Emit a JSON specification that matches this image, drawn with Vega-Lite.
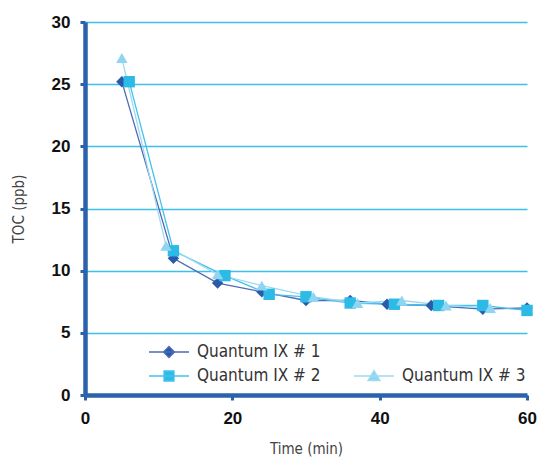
{
  "$schema": "https://vega.github.io/schema/vega-lite/v6.json",
  "width": 442,
  "height": 373,
  "autosize": {"type": "none"},
  "padding": {"left": 85, "top": 22, "right": 15, "bottom": 62},
  "background": "white",
  "config": {
    "view": {"stroke": null},
    "font": "Liberation Sans",
    "axis": {
      "domainColor": "#2a62ab",
      "domainWidth": 4.5,
      "tickColor": "#2a62ab",
      "tickWidth": 3,
      "tickSize": 5,
      "labelFont": "Liberation Sans",
      "labelFontWeight": "bold",
      "labelFontSize": 17,
      "labelColor": "#111111",
      "labelFlush": false,
      "titleFont": "Liberation Sans Narrow, DejaVu Sans Condensed, Roboto Condensed, sans-serif",
      "titleFontWeight": "normal",
      "titleFontSize": 15,
      "titleColor": "#444444"
    },
    "legend": {
      "padding": 0,
      "labelFont": "Liberation Sans Narrow, DejaVu Sans Condensed, Roboto Condensed, sans-serif",
      "labelFontSize": 17,
      "labelColor": "#333333"
    }
  },
  "data": {
    "values": [
      {"series": "Quantum IX # 1", "t": 5, "toc": 25.2},
      {"series": "Quantum IX # 1", "t": 12, "toc": 11.0},
      {"series": "Quantum IX # 1", "t": 18, "toc": 9.0},
      {"series": "Quantum IX # 1", "t": 24, "toc": 8.3},
      {"series": "Quantum IX # 1", "t": 30, "toc": 7.6},
      {"series": "Quantum IX # 1", "t": 36, "toc": 7.6},
      {"series": "Quantum IX # 1", "t": 41, "toc": 7.3},
      {"series": "Quantum IX # 1", "t": 47, "toc": 7.2},
      {"series": "Quantum IX # 1", "t": 54, "toc": 6.9},
      {"series": "Quantum IX # 1", "t": 60, "toc": 7.0},
      {"series": "Quantum IX # 2", "t": 6, "toc": 25.2},
      {"series": "Quantum IX # 2", "t": 12, "toc": 11.6},
      {"series": "Quantum IX # 2", "t": 19, "toc": 9.6},
      {"series": "Quantum IX # 2", "t": 25, "toc": 8.1},
      {"series": "Quantum IX # 2", "t": 30, "toc": 7.9},
      {"series": "Quantum IX # 2", "t": 36, "toc": 7.4},
      {"series": "Quantum IX # 2", "t": 42, "toc": 7.3},
      {"series": "Quantum IX # 2", "t": 48, "toc": 7.2},
      {"series": "Quantum IX # 2", "t": 54, "toc": 7.2},
      {"series": "Quantum IX # 2", "t": 60, "toc": 6.8},
      {"series": "Quantum IX # 3", "t": 5, "toc": 27.1},
      {"series": "Quantum IX # 3", "t": 11, "toc": 12.0},
      {"series": "Quantum IX # 3", "t": 18, "toc": 9.7},
      {"series": "Quantum IX # 3", "t": 24, "toc": 8.8},
      {"series": "Quantum IX # 3", "t": 31, "toc": 7.9},
      {"series": "Quantum IX # 3", "t": 37, "toc": 7.4},
      {"series": "Quantum IX # 3", "t": 43, "toc": 7.6},
      {"series": "Quantum IX # 3", "t": 49, "toc": 7.2},
      {"series": "Quantum IX # 3", "t": 55, "toc": 7.0}
    ]
  },
  "encoding": {
    "x": {
      "field": "t", "type": "quantitative",
      "scale": {"domain": [0, 60], "nice": false},
      "axis": {"values": [0, 20, 40, 60], "title": "Time (min)", "grid": false, "labelPadding": 10, "titlePadding": 15, "tickSize": 5}
    },
    "y": {
      "field": "toc", "type": "quantitative",
      "scale": {"domain": [0, 30], "nice": false},
      "axis": {"values": [0, 5, 10, 15, 20, 25, 30], "title": "TOC (ppb)", "grid": true, "gridColor": "#3dbfe8", "gridWidth": 1.5, "labelPadding": 10, "titlePadding": 25}
    }
  },
  "layer": [
    {
      "mark": {"type": "line", "strokeWidth": 1.3},
      "encoding": {
        "color": {
          "field": "series", "type": "nominal",
          "scale": {"domain": ["Quantum IX # 1", "Quantum IX # 2", "Quantum IX # 3"], "range": ["#4a6cb3", "#45c1ea", "#9ddaf2"]},
          "legend": null
        }
      }
    },
    {
      "mark": {"type": "point", "filled": true, "opacity": 1},
      "encoding": {
        "color": {
          "field": "series", "type": "nominal",
          "scale": {"domain": ["Quantum IX # 1", "Quantum IX # 2", "Quantum IX # 3"], "range": ["#2a5aa8", "#2cbbe6", "#8fd4f0"]},
          "legend": null
        },
        "shape": {
          "field": "series", "type": "nominal",
          "scale": {"domain": ["Quantum IX # 1", "Quantum IX # 2", "Quantum IX # 3"], "range": ["diamond", "square", "triangle-up"]},
          "legend": null
        },
        "size": {
          "field": "series", "type": "nominal",
          "scale": {"domain": ["Quantum IX # 1", "Quantum IX # 2", "Quantum IX # 3"], "range": [130, 130, 150]},
          "legend": null
        }
      }
    },
    {
      "transform": [{"filter": "datum.series === 'Quantum IX # 1'"}],
      "mark": {"type": "point", "filled": true, "opacity": 0},
      "encoding": {
        "color": {
          "field": "series", "type": "nominal",
          "scale": {"domain": ["Quantum IX # 1"], "range": ["#2a5aa8"]},
          "legend": {
            "orient": "none", "legendX": 73, "legendY": 319, "title": null,
            "symbolSize": 400, "symbolStrokeWidth": 1.3, "labelOffset": 17,
            "symbolStrokeColor": "#4a6cb3",
            "encode": {"symbols": {"update": {"opacity": {"value": 1}, "fillOpacity": {"value": 1}, "strokeOpacity": {"value": 1}}}}
          }
        },
        "shape": {
          "field": "series", "type": "nominal",
          "scale": {"domain": ["Quantum IX # 1"], "range": ["M-2,0L2,0M0,-0.55L0.55,0L0,0.55L-0.55,0Z"]}
        }
      }
    },
    {
      "transform": [{"filter": "datum.series !== 'Quantum IX # 1'"}],
      "mark": {"type": "point", "filled": true, "opacity": 0},
      "encoding": {
        "color": {
          "field": "series", "type": "nominal",
          "scale": {"domain": ["Quantum IX # 2", "Quantum IX # 3"], "range": ["#2cbbe6", "#8fd4f0"]},
          "legend": {
            "orient": "none", "legendX": 73, "legendY": 343, "title": null,
            "direction": "horizontal", "columns": 2, "columnPadding": 30,
            "symbolSize": 400, "symbolStrokeWidth": 1.3, "labelOffset": 17,
            "encode": {"symbols": {"update": {"opacity": {"value": 1}, "fillOpacity": {"value": 1}, "strokeOpacity": {"value": 1}}}}
          }
        },
        "stroke": {
          "field": "series", "type": "nominal",
          "scale": {"domain": ["Quantum IX # 2", "Quantum IX # 3"], "range": ["#45c1ea", "#9ddaf2"]},
          "legend": null
        },
        "shape": {
          "field": "series", "type": "nominal",
          "scale": {"domain": ["Quantum IX # 2", "Quantum IX # 3"], "range": ["M-2,0L2,0M-0.5,-0.5L0.5,-0.5L0.5,0.5L-0.5,0.5Z", "M-2,0L2,0M0,-0.55L0.6,0.45L-0.6,0.45Z"]}
        }
      }
    }
  ],
  "resolve": {"scale": {"color": "independent", "shape": "independent", "stroke": "independent", "size": "independent"}}
}
